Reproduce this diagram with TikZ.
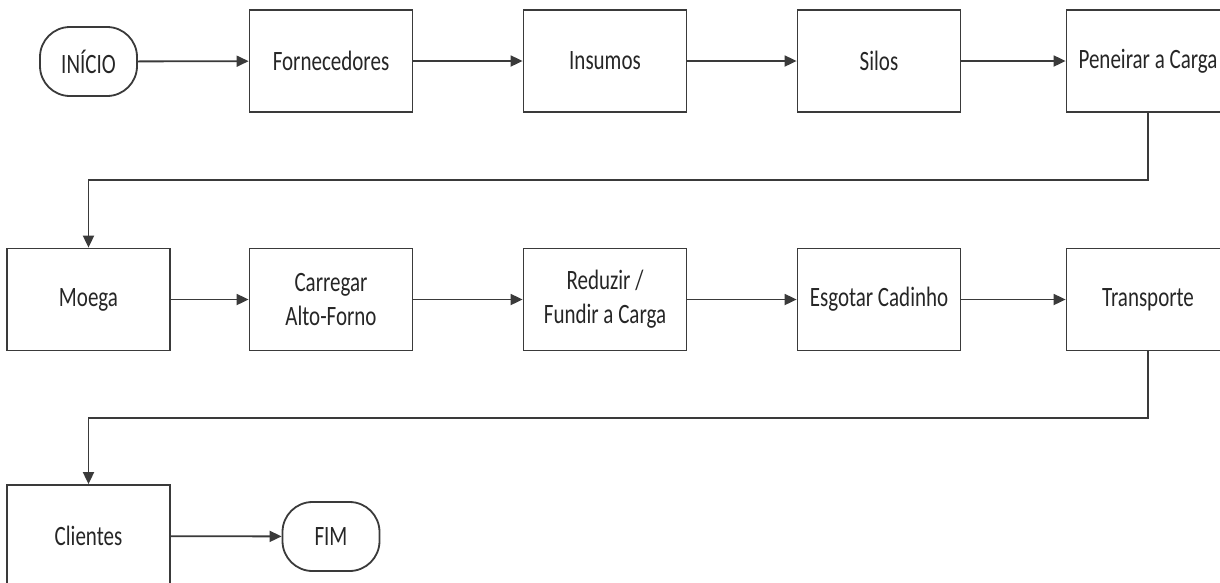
\documentclass[tikz,border=0pt]{standalone}
\usepackage{fontspec}
\setmainfont{Carlito}[FakeStretch=0.75]
\usetikzlibrary{arrows.meta}
\definecolor{ln}{HTML}{3A3A3A}
\definecolor{tx}{HTML}{262626}
\tikzset{
  box/.style={draw=ln, line width=1.8pt, minimum width=163pt, minimum height=102pt, inner sep=0pt, align=center, text=tx, font=\fontsize{28}{34}\selectfont},
  term/.style={draw=ln, line width=1.8pt, rounded corners=30pt, minimum width=97pt, minimum height=69pt, inner sep=0pt, text=tx, font=\fontsize{28}{34}\selectfont},
  conn/.style={draw=ln, line width=1.8pt, -{Triangle[length=12pt,width=11pt]}}
}
\begin{document}
\begin{tikzpicture}[x=1pt,y=-1pt]
\useasboundingbox (0,0) rectangle (1220,582);
\clip (0,0) rectangle (1220,582);
\fill[white] (0,0) rectangle (1220,582);
% row 1
\node[term] (inicio) at (88.5,61.5) {INÍCIO};
\node[box] (forn) at (331,61) {Fornecedores};
\node[box] (insumos) at (605,61) {Insumos};
\node[box] (silos) at (879,61) {Silos};
\node[box] (peneirar) at (1148,61) {Peneirar a Carga};
% row 2
\node[box] (moega) at (88.5,299.5) {Moega};
\node[box] (carregar) at (331,299.5) {Carregar\\Alto-Forno};
\node[box] (reduzir) at (605,299.5) {Reduzir /\\Fundir a Carga};
\node[box] (esgotar) at (879,299.5) {Esgotar Cadinho};
\node[box] (transporte) at (1148,299.5) {Transporte};
% row 3
\node[box] (clientes) at (88.5,536) {Clientes};
\node[term] (fim) at (331,536.5) {FIM};
\coordinate (t1) at (1148,180);
\coordinate (t2) at (1148,418);
% connectors
\draw[conn] (inicio) -- (forn);
\draw[conn] (forn) -- (insumos);
\draw[conn] (insumos) -- (silos);
\draw[conn] (silos) -- (peneirar);
\draw[conn] (peneirar.south) -- (t1) -| (moega.north);
\draw[conn] (moega) -- (carregar);
\draw[conn] (carregar) -- (reduzir);
\draw[conn] (reduzir) -- (esgotar);
\draw[conn] (esgotar) -- (transporte);
\draw[conn] (transporte.south) -- (t2) -| (clientes.north);
\draw[conn] (clientes) -- (fim);
\end{tikzpicture}
\end{document}
